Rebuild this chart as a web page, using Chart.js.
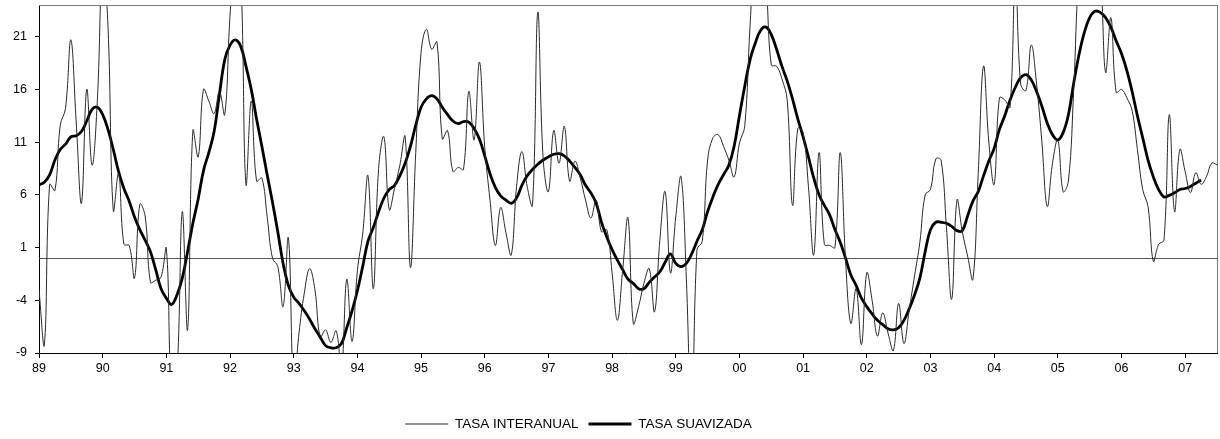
<!DOCTYPE html>
<html>
<head>
<meta charset="utf-8">
<script src="https://cdn.jsdelivr.net/npm/chart.js@4.4.1/dist/chart.umd.min.js"></script>
<style>
  html, body { margin: 0; padding: 0; background: #fff; }
  #wrap { width: 1220px; height: 439px; }
</style>
</head>
<body>
<div id="wrap"><canvas id="chart" width="1220" height="439"></canvas></div>
<script>
// monthly series, January 1989 onwards (index = month)
const yearLabels = ['89','90','91','92','93','94','95','96','97','98','99','00','01','02','03','04','05','06','07'];
const yTicks = [-9, -4, 1, 6, 11, 16, 21];

const interanual = [
  -3.0, -8.3, 7.0, 6.4, 12.6, 14.2, 20.7, 13.0, 5.2, 16.0, 8.8, 15.0,
  28.0, 22.0, 4.5, 8.0, 1.3, 1.2, -1.9, 5.1, 4.0, -2.3, -2.1, -1.8,
  0.9, -13.0, -11.0, 4.4, -6.8, 12.1, 9.6, 16.0, 14.9, 13.7, 15.8, 13.6,
  23.0, 29.0, 27.0, 7.0, 14.9, 7.3, 7.6, 3.9, 0.0, -0.8, -4.6, 1.9,
  -12.0, -7.1, -3.3, -1.0, -3.0, -7.5, -6.8, -8.0, -6.9, -10.5, -2.0, -7.9,
  -1.2, 2.3, 7.8, -2.9, 8.5, 11.5, 4.6, 6.6, 8.8, 11.5, -0.9, 10.0,
  19.5, 21.7, 19.8, 20.5, 11.3, 12.1, 8.2, 8.6, 8.4, 15.8, 11.2, 18.6,
  10.5, 5.5, 1.2, 4.8, 2.4, 0.3, 6.8, 10.1, 6.8, 5.0, 23.3, 9.5,
  6.3, 12.1, 9.0, 12.5, 7.3, 9.2, 7.6, 5.5, 3.8, 5.5, 2.5, 2.7,
  -1.4, -5.9, -1.1, 3.8, -6.2, -4.6, -2.4, -1.0, -5.1, 1.7, 6.3, -1.4,
  3.9, 7.7, -2.0, -16.0, 0.8, 1.6, 9.3, 11.4, 11.7, 10.6, 9.3, 7.7,
  10.9, 12.5, 22.0, 29.0, 29.0, 26.0, 18.3, 18.2, 17.0, 15.0, 5.0, 12.3,
  11.9, 6.8, 0.3, 10.0, 1.3, 1.2, 1.0, 10.0, -0.2, -6.2, -2.9, -8.2,
  -1.4, -4.0, -7.4, -5.2, -7.1, -8.8, -4.3, -8.1, -4.9, -1.7, 1.5, 6.0,
  6.5, 9.4, 9.3, 3.0, -3.9, 5.5, 2.5, 0.2, -2.0, 8.0, 18.2, 11.0,
  7.0, 15.2, 15.0, 14.3, 27.0, 16.5, 15.9, 20.2, 16.5, 11.0, 4.9, 9.0,
  11.2, 6.3, 7.3, 16.0, 27.0, 29.0, 30.0, 29.0, 27.0, 17.6, 22.8, 15.7,
  16.0, 15.2, 14.0, 10.3, 6.5, 4.9, -0.3, 1.3, 1.7, 13.6, 4.4, 10.3,
  8.2, 6.2, 8.1, 7.0, 7.7, 9.0, 8.85
];

const suavizada = [
  6.95, 7.2, 7.9, 9.3, 10.3, 10.8, 11.5, 11.6, 12.0, 13.0, 14.1, 14.3,
  13.6, 12.2, 10.3, 8.2, 6.6, 5.4, 3.9, 2.7, 1.7, 0.6, -1.1, -2.9,
  -3.8, -4.4, -3.5, -1.9, 0.6, 3.3, 5.6, 8.3, 10.0, 12.0, 15.5, 18.8,
  20.2, 20.7, 20.1, 18.2, 16.0, 13.2, 10.6, 7.9, 5.3, 2.5, -0.5, -2.6,
  -3.7, -4.3, -5.0, -5.8, -6.7, -7.5, -8.3, -8.5, -8.5, -8.1, -6.6, -5.0,
  -3.1, -0.8, 1.6, 2.9, 4.4, 5.7, 6.5, 6.9, 7.8, 9.0, 10.6, 12.6,
  14.3, 15.1, 15.4, 15.1, 14.3, 13.6, 13.0, 12.75, 12.95, 12.9, 12.3, 11.3,
  9.7, 8.0, 6.7, 5.9, 5.5, 5.2, 5.7, 6.9, 7.8, 8.4, 8.9, 9.3,
  9.6, 9.85, 9.9, 9.7, 9.2, 8.6, 7.9, 6.9, 6.2, 5.2, 3.4, 2.0,
  0.8, -0.2, -1.1, -2.0, -2.4, -2.9, -2.9, -2.3, -1.8, -1.3, -0.4, 0.4,
  -0.5, -0.8, -0.5, 0.4, 1.6, 2.7, 4.4, 5.8, 7.0, 7.9, 8.8, 10.6,
  13.5, 16.3, 18.8, 20.4, 21.6, 21.9, 21.2, 19.8, 18.2, 16.8, 15.1, 13.2,
  11.5, 9.6, 7.6, 6.0, 5.0, 4.1, 2.7, 1.5, 0.0, -1.6, -2.6, -3.8,
  -4.6, -5.3, -5.9, -6.3, -6.7, -6.8, -6.6, -5.9, -4.8, -3.5, -1.9, 0.6,
  2.7, 3.4, 3.4, 3.3, 3.0, 2.6, 2.6, 4.0, 5.4, 6.3, 7.8, 9.2,
  10.4, 12.2, 13.5, 15.0, 16.2, 17.1, 17.4, 16.9, 15.8, 14.4, 12.8, 11.7,
  11.2, 11.9, 13.6, 16.6, 19.3, 21.4, 22.8, 23.4, 23.3, 22.8, 21.9, 20.6,
  19.4, 17.8, 15.8, 13.5, 11.4, 9.3, 7.7, 6.5, 5.8, 5.95, 6.2, 6.5,
  6.6, 6.8, 7.1, 7.4
];

const toPoints = arr => arr.map((v, i) => ({ x: i, y: v }));
const tickFont = { family: 'Liberation Sans', size: 12.5 };
const legendFont = { family: 'Liberation Sans', size: 13.5 };

// zero reference line under the series, grey frame (top/right) on top
const framePlugin = {
  id: 'frame',
  beforeDatasetsDraw(chart) {
    const { ctx, scales: { x, y } } = chart;
    const y0 = Math.round(y.getPixelForValue(0));
    ctx.save();
    ctx.fillStyle = '#555';
    ctx.fillRect(x.left, y0, x.right - x.left, 1);
    ctx.restore();
  },
  afterDraw(chart) {
    const { ctx, scales: { x, y } } = chart;
    const top = Math.round(y.getPixelForValue(y.max));
    const bottom = Math.round(y.getPixelForValue(y.min));
    const left = Math.round(x.getPixelForValue(x.min));
    const right = Math.round(x.getPixelForValue(x.max));
    ctx.save();
    ctx.fillStyle = '#7a7a7a';
    ctx.fillRect(left, top, right - left + 1, 1);
    ctx.fillRect(right, top, 1, bottom - top);
    ctx.restore();
  },
  afterLayout(chart) {
    // place legend row a bit left of centre, near the bottom
    const lg = chart.legend;
    const top = 424 - 10 - legendFont.size / 2;
    lg.left -= 30; lg.right -= 30;
    lg.bottom = top + lg.height; lg.top = top;
  }
};

new Chart(document.getElementById('chart'), {
  type: 'line',
  data: {
    datasets: [
      {
        label: 'TASA INTERANUAL',
        data: toPoints(interanual),
        borderColor: '#2a2a2a',
        borderWidth: 1,
        pointRadius: 0,
        pointStyle: 'line',
        tension: 0.4,
        clip: 0
      },
      {
        label: 'TASA SUAVIZADA',
        data: toPoints(suavizada),
        borderColor: '#000',
        borderWidth: 2.8,
        pointRadius: 0,
        pointStyle: 'line',
        tension: 0.4,
        clip: 0
      }
    ]
  },
  options: {
    responsive: false,
    animation: false,
    devicePixelRatio: 1,
    layout: { padding: { top: 5, right: 3, left: 0, bottom: 22.5 } },
    plugins: {
      tooltip: { enabled: false },
      legend: {
        position: 'bottom',
        labels: {
          usePointStyle: true,
          pointStyleWidth: 43,
          color: '#000',
          font: legendFont,
          padding: 10
        }
      }
    },
    scales: {
      x: {
        type: 'linear',
        min: 0,
        max: interanual.length - 1,
        afterBuildTicks: s => { s.ticks = yearLabels.map((_, k) => ({ value: k * 12 })); },
        afterFit: s => { s.height = 30; },
        border: { color: '#000', width: 1 },
        grid: { drawOnChartArea: false, tickLength: 5, color: '#000' },
        ticks: {
          autoSkip: false,
          maxRotation: 0,
          padding: 3,
          color: '#000',
          font: tickFont,
          callback: v => yearLabels[Math.round(v / 12)]
        }
      },
      y: {
        min: -9,
        max: 24,
        afterBuildTicks: s => { s.ticks = yTicks.map(v => ({ value: v })); },
        afterFit: s => { s.width = 39; s.paddingTop = 0; s.paddingBottom = 0; },
        border: { color: '#000', width: 1 },
        grid: { drawOnChartArea: false, tickLength: 4, color: '#000' },
        ticks: { padding: 8, color: '#000', font: tickFont }
      }
    }
  },
  plugins: [framePlugin]
});
</script>
</body>
</html>
